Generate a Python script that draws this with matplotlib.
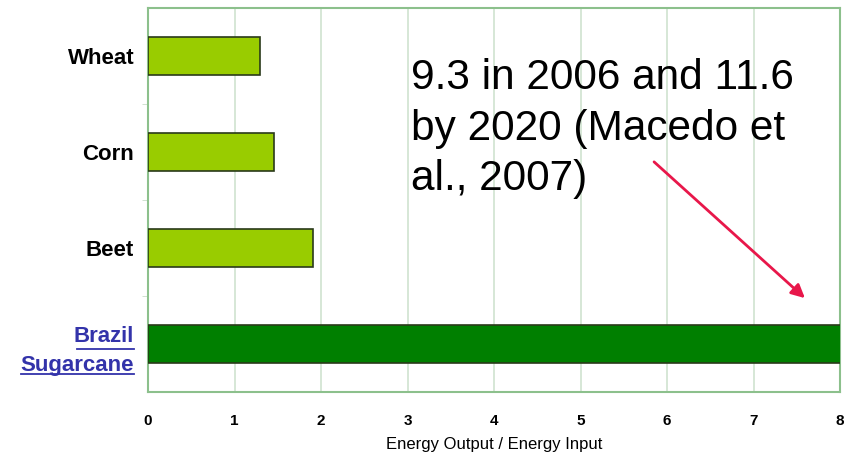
import numpy as np
import matplotlib
matplotlib.use("Agg")
import matplotlib.pyplot as plt
from matplotlib.lines import Line2D

plt.rcParams['font.family'] = ['Liberation Sans', 'DejaVu Sans']

# data
crops = ["Wheat", "Corn", "Beet", "Brazil\nSugarcane"]
ratios = [1.29, 1.46, 1.91, 9.3]
bar_colors = ["#99cc00", "#99cc00", "#99cc00", "#007f00"]
x_ticks = [0, 1, 2, 3, 4, 5, 6, 7, 8]
note = "9.3 in 2006 and 11.6\nby 2020 (Macedo et\nal., 2007)"

fig = plt.figure(figsize=(8.49, 4.55), dpi=100)
ax = fig.add_axes([148/849, 63/455, 692/849, 384/455])

ypos = np.arange(len(crops))
ax.barh(ypos, ratios, height=0.4, color=bar_colors, edgecolor="#2a3a1a", linewidth=1.2, zorder=3)

ax.set_xlim(0, 8)
ax.set_ylim(len(crops) - 0.5, -0.5)
ax.set_xticks(x_ticks)
ax.set_xticklabels([str(t) for t in x_ticks], fontsize=11, fontweight="bold")
ax.set_yticks(ypos)
ax.set_yticklabels(crops, fontsize=16, fontweight="bold")
ax.set_yticks(ypos[:-1] + 0.5, minor=True)
ax.tick_params(axis="y", which="major", length=0, pad=10)
ax.tick_params(axis="y", which="minor", length=4, color="#c8dcc8", direction="out")
ax.tick_params(axis="x", length=0, pad=16)
ax.grid(axis="x", color="#cfe3cf", linewidth=1.2, zorder=0)
for sp in ax.spines.values():
    sp.set_color("#8cc08c")
    sp.set_linewidth(1.5)

ax.set_xlabel("Energy Output / Energy Input", fontsize=12, labelpad=6)

# blue underlined label for sugarcane
lab = ax.get_yticklabels()[-1]
lab.set_color("#3333aa")
lab.set_multialignment("right")
lab.set_linespacing(1.5)

ax.text(411/849, 1 - 58/455, note, transform=fig.transFigure, fontsize=30.5,
        va="top", ha="left", linespacing=1.34, color="black")

ax.annotate("", xy=(807, 455 - 300), xycoords="figure pixels",
            xytext=(652, 455 - 160), textcoords="figure pixels",
            arrowprops=dict(arrowstyle="-|>", color="#e8174a", lw=2, mutation_scale=20))

# underline each line of the sugarcane label
fig.canvas.draw()
r = fig.canvas.get_renderer()
bb = lab.get_window_extent(r)
hline = bb.height / 2
for k, frac in enumerate([1.0, 0.5]):
    y = bb.y0 + k * hline + 2
    fig.add_artist(Line2D([bb.x1 - (bb.x1 - bb.x0) * frac, bb.x1], [y, y],
                          transform=None, color="#3333aa", lw=1.3))

fig.savefig("out.png", dpi=100)
